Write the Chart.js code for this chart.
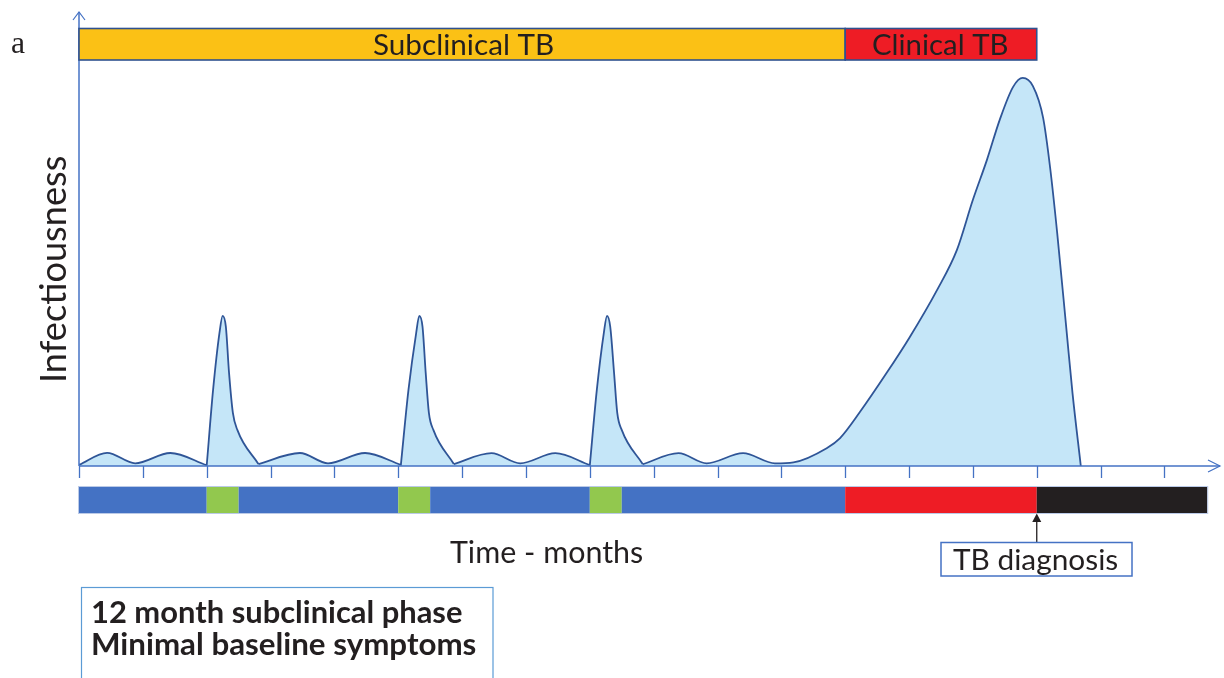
<!DOCTYPE html>
<html><head><meta charset="utf-8">
<script src="https://cdn.jsdelivr.net/npm/chart.js@4"></script>
<style>html,body{margin:0;padding:0;background:#fff}canvas{display:block}</style>
</head><body>
<canvas id="c" width="1224" height="678"></canvas>
<script>
// ---- data (months since onset, relative infectiousness; null = break between pieces) ----
const months = [
  0, 0.44, 0.88, 1.43, 2.0, 2.0,
  2.0, 2.10, 2.20, 2.25, 2.30, 2.35, 2.41, 2.48, 2.81, 2.81,
  2.81, 3.46, 3.90, 4.48, 5.04, 5.04,
  5.04, 5.16, 5.28, 5.33, 5.38, 5.43, 5.48, 5.55, 5.87, 5.87,
  5.87, 6.46, 6.91, 7.46, 8.0, 8.0,
  8.0, 8.11, 8.22, 8.27, 8.32, 8.38, 8.43, 8.50, 8.83, 8.83,
  8.83, 9.39, 9.83, 10.40, 10.90, 11.19, 11.71, 11.92, 12.23, 12.65, 13.01, 13.44, 13.75, 14.0, 14.22, 14.42, 14.63, 14.78, 14.94, 15.10, 15.21, 15.32, 15.47, 15.56, 15.69
];
const infectiousness = [
  0.3, 3.4, 0.7, 3.35, 0.2, null,
  0.1, 19.6, 34.3, 38.7, 35.9, 24.0, 13.7, 9.3, 0.5, null,
  0.5, 3.35, 0.7, 3.35, 0.3, null,
  0.1, 19.6, 34.2, 38.7, 35.9, 24.0, 13.7, 9.3, 0.5, null,
  0.5, 3.3, 0.7, 3.3, 0.25, null,
  0.1, 19.6, 34.3, 38.7, 35.9, 24.0, 13.7, 9.3, 0.45, null,
  0.45, 3.3, 0.7, 3.3, 0.7, 0.95, 4.6, 7.2, 13.9, 24.0, 33.2, 45.4, 55.7, 68.6, 78.9, 89.2, 97.7, 100, 97.9, 89.7, 76.8, 60.1, 34.3, 18.8, 0
];
const tickMonths = [0,1,2,3,4,5,6,7,8,9,10,11,12,13,14,15,16,17];
const phaseLabels = ['Subclinical TB', 'Clinical TB'];
const phaseStart = [0, 12];
const phaseEnd = [12, 15];
const timelineStart = [0, 2, 2.5, 5, 5.5, 8, 8.5, 12, 15];
const timelineEnd   = [2, 2.5, 5, 5.5, 8, 8.5, 12, 15, 17.67];
const timelineState = ['baseline','flare','baseline','flare','baseline','flare','baseline','clinical','treated'];
const diagnosisMonth = 15;

// ---- styles ----
const phaseColors = ['#FBC115', '#EE1C25'];
const stateColors = {baseline:'#4472C4', flare:'#92C84E', clinical:'#EE1C25', treated:'#231F20'};
const AXIS = '#4472C4', TEXT = '#231F20', FONT = 'Lato';

function fitDraw(ctx, text, left, right, baseline, weight, family, color) {
  ctx.font = `${weight} 100px ${family}`;
  let m = ctx.measureText(text);
  const size = 100 * (right - left) / (m.actualBoundingBoxLeft + m.actualBoundingBoxRight);
  ctx.font = `${weight} ${size}px ${family}`;
  m = ctx.measureText(text);
  ctx.fillStyle = color;
  ctx.textAlign = 'left';
  ctx.textBaseline = 'alphabetic';
  ctx.fillText(text, left + m.actualBoundingBoxLeft, baseline);
}
function seg(ctx, x1, y1, x2, y2) { ctx.beginPath(); ctx.moveTo(x1, y1); ctx.lineTo(x2, y2); ctx.stroke(); }

const overlay = {
  id: 'overlay',
  afterDatasetsDraw(chart) {
    const {ctx, chartArea: a, scales: {x, y}} = chart;
    ctx.save();
    const x0 = x.getPixelForValue(0), y0 = y.getPixelForValue(0);
    // axes
    ctx.strokeStyle = AXIS; ctx.lineWidth = 1.5;
    seg(ctx, x0, y0, a.right, y0);
    seg(ctx, x0, y0, x0, a.top);
    ctx.lineWidth = 1.2;
    ctx.beginPath(); ctx.moveTo(x0 - 6, a.top + 8); ctx.lineTo(x0, a.top); ctx.lineTo(x0 + 6, a.top + 8); ctx.stroke();
    ctx.beginPath(); ctx.moveTo(a.right - 12, y0 - 6); ctx.lineTo(a.right, y0); ctx.lineTo(a.right - 12, y0 + 6); ctx.stroke();
    ctx.lineWidth = 1.3;
    tickMonths.forEach(m => { const px = Math.round(x.getPixelForValue(m)) + 0.5; seg(ctx, px, y0, px, y0 + 12); });

    // phase bar (top)
    const pTop = 28.5, pBot = 60;
    phaseLabels.forEach((lab, i) => {
      const l = x.getPixelForValue(phaseStart[i]), r = x.getPixelForValue(phaseEnd[i]);
      ctx.fillStyle = phaseColors[i];
      ctx.fillRect(l, pTop, r - l, pBot - pTop);
      ctx.strokeStyle = '#2F528F'; ctx.lineWidth = 1.6;
      ctx.strokeRect(l, pTop, r - l, pBot - pTop);
    });
    fitDraw(ctx, phaseLabels[0], 373, 552, 55, 'normal', FONT, TEXT);
    fitDraw(ctx, phaseLabels[1], 873, 1007, 55, 'normal', FONT, TEXT);

    // timeline bar
    const tTop = 487, tBot = 513;
    timelineStart.forEach((s, i) => {
      const l = x.getPixelForValue(s), r = x.getPixelForValue(timelineEnd[i]);
      ctx.fillStyle = stateColors[timelineState[i]];
      ctx.fillRect(l, tTop, r - l, tBot - tTop);
    });
    ctx.strokeStyle = 'rgba(180,196,228,0.9)'; ctx.lineWidth = 1;
    ctx.strokeRect(x0 - 0.5, tTop - 0.5, x.getPixelForValue(timelineEnd[timelineEnd.length - 1]) - x0 + 1, tBot - tTop + 1);

    // diagnosis arrow + box
    const dx = x.getPixelForValue(diagnosisMonth);
    ctx.strokeStyle = TEXT; ctx.fillStyle = TEXT; ctx.lineWidth = 1.3;
    seg(ctx, dx, 520, dx, 542);
    ctx.beginPath(); ctx.moveTo(dx, 513.5); ctx.lineTo(dx - 4.5, 522); ctx.lineTo(dx + 4.5, 522); ctx.closePath(); ctx.fill();
    ctx.strokeStyle = AXIS; ctx.lineWidth = 1.5;
    ctx.strokeRect(941, 542.5, 191, 33.5);
    fitDraw(ctx, 'TB diagnosis', 953, 1117, 570, 'normal', FONT, TEXT);

    // axis titles
    fitDraw(ctx, 'Time - months', 450, 642, 562.5, 'normal', FONT, TEXT);
    ctx.save();
    ctx.translate(65.5, 380); ctx.rotate(-Math.PI / 2);
    fitDraw(ctx, 'Infectiousness', 0, 223, 0, 'normal', FONT, TEXT);
    ctx.restore();

    // panel letter
    fitDraw(ctx, 'a', 12, 25, 53, 'normal', '"Liberation Serif"', TEXT);

    // note box
    ctx.strokeStyle = '#5B9BD5'; ctx.lineWidth = 1.2;
    ctx.strokeRect(81.5, 587.5, 411.5, 120);
    fitDraw(ctx, '12 month subclinical phase', 93, 462, 623, 'bold', FONT, TEXT);
    fitDraw(ctx, 'Minimal baseline symptoms', 93, 475, 655, 'bold', FONT, TEXT);
    ctx.restore();
  }
};

new Chart(document.getElementById('c'), {
  type: 'line',
  data: {
    datasets: [{
      label: 'Infectiousness',
      data: months.map((m, i) => ({x: m, y: infectiousness[i]})),
      borderColor: '#2F5597',
      borderWidth: 1.8,
      backgroundColor: '#C5E6F8',
      fill: 'origin',
      cubicInterpolationMode: 'monotone',
      pointRadius: 0,
      spanGaps: false
    }]
  },
  options: {
    responsive: false,
    animation: false,
    layout: {padding: {left: 79, right: 4, top: 12, bottom: 212}},
    plugins: {legend: {display: false}, tooltip: {enabled: false}},
    scales: {
      x: {type: 'linear', min: 0, max: 17.87, display: false},
      y: {min: 0, max: 117, display: false}
    }
  },
  plugins: [overlay]
});
</script>
</body></html>
